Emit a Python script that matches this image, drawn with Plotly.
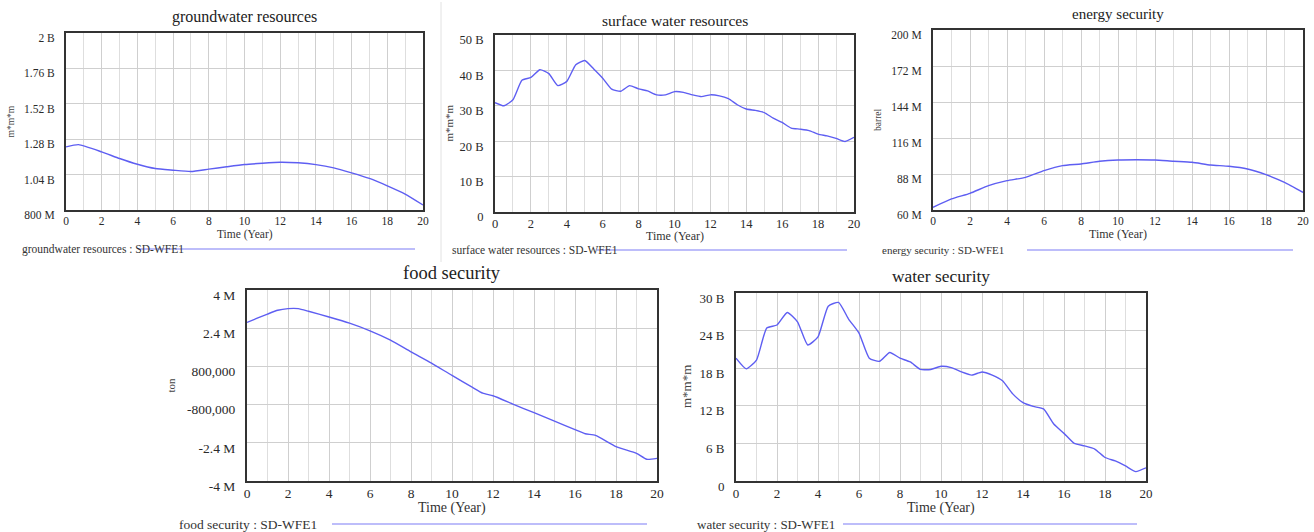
import plotly.graph_objects as go

W, H = 1314, 532

# ---------------- data ----------------
gw_t = [0, 0.7, 2, 3, 4, 5, 6, 7, 8, 9, 10, 11, 12, 13, 14, 15, 16, 17, 18, 19, 20]
gw_v = [1.228e9, 1.243e9, 1.194e9, 1.149e9, 1.110e9, 1.081e9, 1.070e9, 1.061e9, 1.077e9, 1.093e9,
        1.108e9, 1.117e9, 1.124e9, 1.120e9, 1.108e9, 1.086e9, 1.052e9, 1.014e9, 0.964e9, 0.908e9, 0.834e9]

half_t = [i * 0.5 for i in range(41)]
sw_v = [30.9, 30.0, 31.7, 37.2, 38.0, 40.2, 39.1, 35.7, 36.9, 41.6, 42.8, 40.4, 37.8, 34.7, 34.1,
        35.7, 34.8, 34.2, 33.1, 33.1, 34.0, 33.8, 33.1, 32.6, 33.1, 32.8, 32.0, 30.3, 29.1, 28.7,
        28.1, 26.5, 25.3, 23.7, 23.4, 23.0, 22.0, 21.5, 20.8, 19.9, 21.1]
sw_v = [v * 1e9 for v in sw_v]

en_t = list(range(21))
en_v = [62.1, 68.6, 73.0, 78.9, 82.8, 85.4, 90.6, 94.5, 95.8, 97.9, 98.9, 99.1, 98.9, 97.9, 97.1,
        95.0, 94.0, 91.9, 87.5, 81.5, 73.7]
en_v = [v * 1e6 for v in en_v]

fd_t = [0, 0.5, 1, 1.5, 2, 2.5, 3, 4, 5, 6, 7, 8, 9, 10, 11, 11.5, 12, 13, 14, 15, 16, 16.5, 17, 18,
        19, 19.5, 20]
fd_v = [2.64, 2.82, 2.99, 3.15, 3.22, 3.22, 3.11, 2.87, 2.61, 2.29, 1.90, 1.41, 0.94, 0.42, -0.08,
        -0.32, -0.43, -0.79, -1.14, -1.49, -1.85, -2.02, -2.09, -2.56, -2.84, -3.09, -3.05]
fd_v = [v * 1e6 for v in fd_v]

ws_v = [19.6, 17.9, 19.3, 24.4, 24.9, 26.9, 25.4, 21.7, 23.0, 27.9, 28.5, 25.8, 23.6, 19.6, 19.1,
        20.5, 19.6, 19.0, 17.8, 17.8, 18.3, 18.1, 17.4, 16.9, 17.4, 16.9, 16.0, 13.9, 12.5, 11.9,
        11.5, 9.1, 7.6, 6.0, 5.6, 5.1, 3.75, 3.2, 2.4, 1.5, 2.1]
ws_v = [v * 1e9 for v in ws_v]

x_ticks = list(range(0, 21, 2))

gw_ticks = [0.8e9, 1.04e9, 1.28e9, 1.52e9, 1.76e9, 2.0e9]
gw_text = ["800 M", "1.04 B", "1.28 B", "1.52 B", "1.76 B", "2 B"]
sw_ticks = [0, 10e9, 20e9, 30e9, 40e9, 50e9]
sw_text = ["0", "10 B", "20 B", "30 B", "40 B", "50 B"]
en_ticks = [60e6, 88e6, 116e6, 144e6, 172e6, 200e6]
en_text = ["60 M", "88 M", "116 M", "144 M", "172 M", "200 M"]
fd_ticks = [-4e6, -2.4e6, -0.8e6, 0.8e6, 2.4e6, 4e6]
fd_text = ["-4 M", "-2.4 M", "-800,000", "800,000", "2.4 M", "4 M"]
ws_ticks = [0, 6e9, 12e9, 18e9, 24e9, 30e9]
ws_text = ["0", "6 B", "12 B", "18 B", "24 B", "30 B"]

panels = [
    dict(name="groundwater resources", unit="m*m*m", t=gw_t, v=gw_v, tv=gw_ticks, tt=gw_text,
         box=(66, 423, 33, 210), title_y=17, tsize=16, ytitle_x=10, ysize=9.5,
         fsize=11.5, xtsize=11.5, xt_off=24, lsize=11.5, leg=(20, 249, 138, 415)),
    dict(name="surface water resources", unit="m*m*m", t=half_t, v=sw_v, tv=sw_ticks, tt=sw_text,
         box=(495, 854, 35, 212), title_y=20, tsize=15.6, ytitle_x=448, ysize=11,
         fsize=12.5, xtsize=12, xt_off=24, lsize=11.5, leg=(450, 250, 597, 847)),
    dict(name="energy security", unit="barrel", t=en_t, v=en_v, tv=en_ticks, tt=en_text,
         box=(933, 1303, 30, 210), title_y=14, tsize=15, ytitle_x=878, ysize=9.5,
         fsize=11.5, xtsize=12, xt_off=24, lsize=11, leg=(880, 250, 1027, 1293)),
    dict(name="food security", unit="ton", t=fd_t, v=fd_v, tv=fd_ticks, tt=fd_text,
         box=(247, 657, 290, 481), title_y=273, tsize=18.5, ytitle_x=170, ysize=11,
         fsize=13.5, xtsize=14, xt_off=27, lsize=13.5, leg=(177, 524, 332, 647)),
    dict(name="water security", unit="m*m*m", t=half_t, v=ws_v, tv=ws_ticks, tt=ws_text,
         box=(736, 1146, 293, 481), title_y=276, tsize=17.4, ytitle_x=687, ysize=13,
         fsize=13, xtsize=14, xt_off=27, lsize=13, leg=(695, 524, 843, 1137)),
]

FONT = "Liberation Serif, Times New Roman, serif"
LINE = "#5e5ef2"

fig = go.Figure()
annotations = []
shapes = []

def px(x):
    return x / W

def py(y):
    return 1 - y / H

for i, p in enumerate(panels, start=1):
    xa = "x" if i == 1 else f"x{i}"
    ya = "y" if i == 1 else f"y{i}"
    fig.add_trace(go.Scatter(x=p["t"], y=p["v"], mode="lines", xaxis=xa, yaxis=ya,
                             line=dict(color=LINE, width=1.4, shape="spline", smoothing=0.5),
                             showlegend=False, name=p["name"]))
    l, r, t, b = p["box"]
    lo, hi = p["tv"][0], p["tv"][-1]
    axis_common = dict(showline=True, mirror=True, linecolor="#333333", linewidth=2,
                       ticks="", zeroline=False, automargin=False,
                       tickfont=dict(family=FONT, size=p["fsize"], color="#2a2a2a"))
    fig.layout[f"xaxis{'' if i == 1 else i}"] = dict(
        domain=[px(l), px(r)], anchor=ya, range=[0, 20], tickvals=x_ticks,
        showgrid=True, gridcolor="#cfcfcf", gridwidth=1, ticklabelstandoff=-1,
        minor=dict(dtick=1, showgrid=True, gridcolor="#dedede"),
        **axis_common)
    fig.layout[f"yaxis{'' if i == 1 else i}"] = dict(
        domain=[py(b), py(t)], anchor=xa, range=[lo, hi], tickvals=p["tv"], ticktext=p["tt"],
        showgrid=True, gridcolor="#cfcfcf", gridwidth=1, ticklabelshift=5,
        ticklabelstandoff=7,
        **axis_common)
    # title
    annotations.append(dict(x=px((l + r) / 2), y=py(p["title_y"]), xref="paper", yref="paper",
                            text=p["name"], showarrow=False, xanchor="center", yanchor="middle",
                            font=dict(family=FONT, size=p["tsize"], color="#222222")))
    # x title
    annotations.append(dict(x=px((l + r) / 2), y=py(b + p["xt_off"]), xref="paper", yref="paper",
                            text="Time (Year)", showarrow=False, xanchor="center", yanchor="middle",
                            font=dict(family=FONT, size=p["xtsize"], color="#333333")))
    # y title
    annotations.append(dict(x=px(p["ytitle_x"]), y=py((t + b) / 2), xref="paper", yref="paper",
                            text=p["unit"], showarrow=False, textangle=-90,
                            xanchor="center", yanchor="middle",
                            font=dict(family=FONT, size=p["ysize"], color="#444444")))
    # legend
    lx, ly, l1, l2 = p["leg"]
    annotations.append(dict(x=px(lx), y=py(ly), xref="paper", yref="paper",
                            text=p["name"] + " : SD-WFE1", showarrow=False,
                            xanchor="left", yanchor="middle",
                            font=dict(family=FONT, size=p["lsize"], color="#333333")))
    shapes.append(dict(type="line", xref="paper", yref="paper", x0=px(l1), x1=px(l2),
                       y0=py(ly), y1=py(ly), line=dict(color="#7d7df5", width=1.2)))

# separator between first two panels
shapes.append(dict(type="line", xref="paper", yref="paper", x0=px(441), x1=px(441),
                   y0=py(2), y1=py(262), line=dict(color="#e2e2e2", width=1)))

fig.update_layout(width=W, height=H, margin=dict(l=0, r=0, t=0, b=0, autoexpand=False),
                  paper_bgcolor="white", plot_bgcolor="white",
                  annotations=annotations, shapes=shapes, showlegend=False)

fig.write_html("out.html", config={"displayModeBar": False},
               post_script="document.body.style.margin='0';document.body.style.overflow='hidden';")
